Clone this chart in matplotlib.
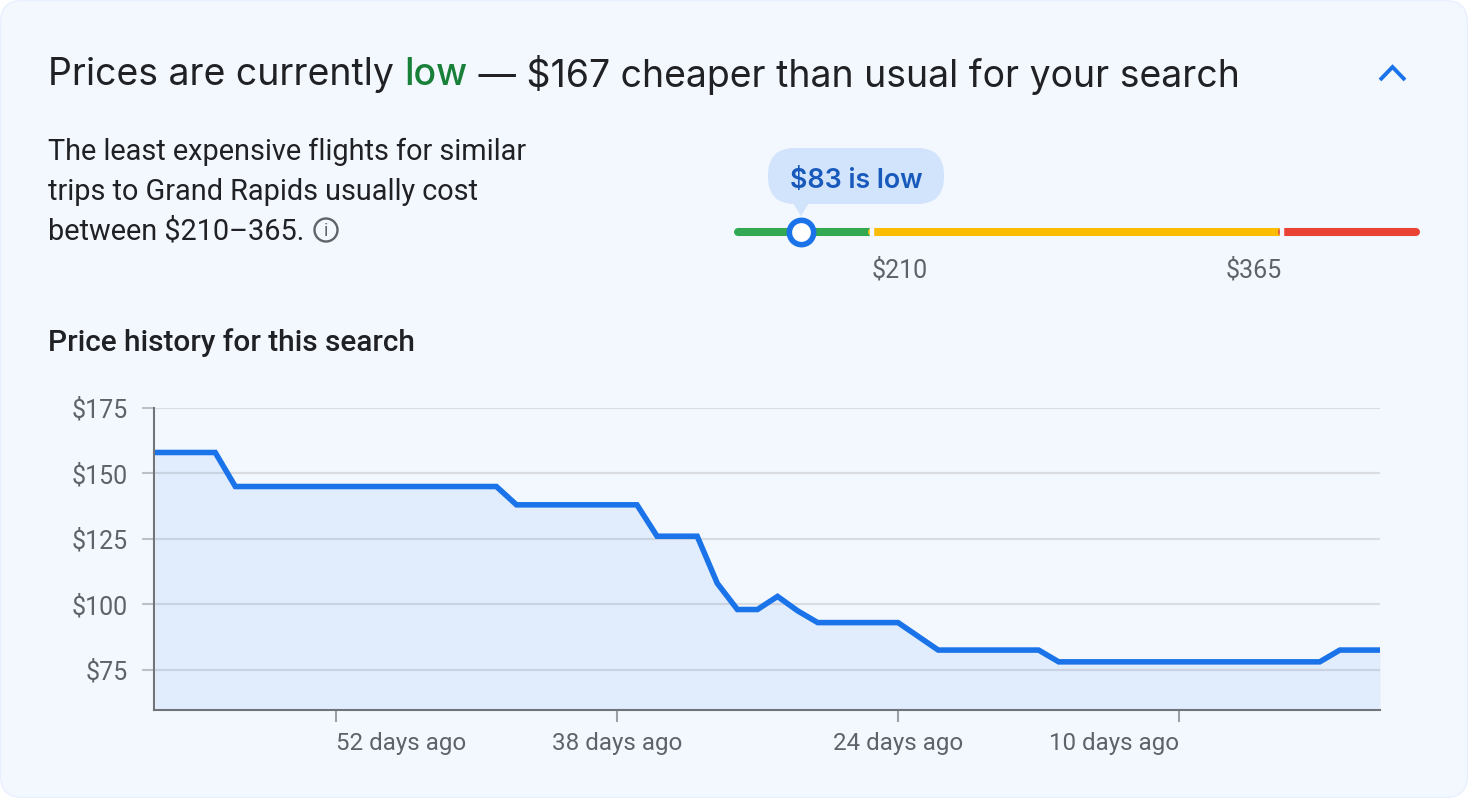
import matplotlib
matplotlib.use("Agg")
import matplotlib.pyplot as plt
import numpy as np
from matplotlib.patches import FancyBboxPatch, Polygon, Circle

W, H = 1468, 798

days_ago = list(range(61, -1, -1))
prices = [158, 158, 158, 158, 145, 145, 145, 145, 145, 145, 145, 145, 145, 145, 145, 145, 145, 145,
          138, 138, 138, 138, 138, 138, 138, 126, 126, 126, 108, 98, 98, 103, 97.5, 93, 93, 93, 93, 93,
          87.75, 82.5, 82.5, 82.5, 82.5, 82.5, 82.5, 78, 78, 78, 78, 78, 78, 78, 78, 78, 78, 78, 78, 78, 78,
          82.5, 82.5, 82.5]
y_ticks = [75, 100, 125, 150, 175]
x_ticks = [52, 38, 24, 10]
x_aligns = ["left", "center", "center", "right"]

current_price = 83
range_low = 210
range_high = 365
range_end = 500

BLUE = "#1a73e8"
TEXT = "#202124"
GREY = "#5f6368"
PANEL = "#f3f8ff"
BODY_FONT = ["Roboto", "DejaVu Sans"]
HEAD_FONT = ["Inter", "Roboto", "DejaVu Sans"]


def box(left, top, right, bottom):
    return [left / W, 1 - bottom / H, (right - left) / W, (bottom - top) / H]


fig = plt.figure(figsize=(W / 100, H / 100), dpi=100, facecolor="white")

# pixel overlay for the card and the text
bg = fig.add_axes([0, 0, 1, 1], zorder=0)
bg.set_xlim(0, W)
bg.set_ylim(H, 0)
bg.axis("off")
bg.add_patch(FancyBboxPatch((0.5, 0.5), W - 1, H - 1, boxstyle="round,pad=0,rounding_size=22",
                            fc=PANEL, ec="#e8f0fe", lw=1))

# headline in three colours
renderer = fig.canvas.get_renderer()
x = 48
for part, col, weight in [("Prices are currently ", TEXT, "normal"), ("low", "#188038", "medium"),
                          (" \u2014 $167 cheaper than usual for your search", TEXT, "normal")]:
    t = bg.text(x, 71, part, fontsize=26.95, color=col, family=HEAD_FONT, fontweight=weight,
                va="center_baseline", ha="left")
    x = t.get_window_extent(renderer).x1

for y, line in zip([149, 189, 229], ["The least expensive flights for similar",
                                     "trips to Grand Rapids usually cost",
                                     "between $210\u2013365."]):
    bg.text(48, y, line, fontsize=20.8, color=TEXT, family=BODY_FONT, va="center_baseline", ha="left")

# info icon
bg.add_patch(Circle((326, 230), 11.5, fc="none", ec=GREY, lw=1.7))
bg.text(326, 230.5, "i", fontsize=13, color=GREY, family=BODY_FONT, ha="center", va="center")

# chevron
bg.plot([1380, 1392.5, 1405], [80, 67, 80], color=BLUE, lw=2.8, solid_joinstyle="miter", solid_capstyle="butt")

bg.text(48, 340, "Price history for this search", fontsize=21.4, color=TEXT, family=BODY_FONT,
        fontweight="medium", va="center_baseline", ha="left")

# price bubble
bg.add_patch(FancyBboxPatch((768, 148), 176, 56, boxstyle="round,pad=0,rounding_size=27", fc="#d2e3fc", ec="none"))
bg.add_patch(Polygon([(793, 203), (809, 203), (801, 216)], fc="#d2e3fc", ec="none"))
bg.text(856, 178, f"${current_price} is low", fontsize=19.3, color="#185abc", family=HEAD_FONT,
        fontweight="semibold", ha="center", va="center_baseline")

# range bar, piecewise scale so the three bands get the widths of the card
rng = fig.add_axes(box(738, 222, 1416, 242), zorder=2)
rng.patch.set_alpha(0)
anchors = [0, current_price, range_low, range_high, range_end]
where = [738, 801, 872, 1282, 1416]
rng.set_xscale("function", functions=(lambda v: np.interp(v, anchors, where),
                                      lambda p: np.interp(p, where, anchors)))
rng.set_xlim(0, range_end)
rng.set_ylim(-1, 1)
for a, b, col in [(0, range_low, "#34a853"), (range_low, range_high, "#fbbc04"), (range_high, range_end, "#ea4335")]:
    rng.plot([a, b], [0, 0], color=col, lw=5.8, solid_capstyle="round", clip_on=False)
for v in [range_low, range_high]:
    rng.axvline(v, ymin=0.2, ymax=0.8, color=PANEL, lw=3.2, zorder=3)
rng.plot([current_price], [0], "o", ms=17.5, mfc="white", mec=BLUE, mew=4, clip_on=False, zorder=4)
for s in rng.spines.values():
    s.set_visible(False)
rng.set_yticks([])
rng.set_xticks([range_low, range_high])
rng.set_xticklabels([f"${range_low}", f"${range_high}"], family=BODY_FONT, fontsize=18, color=GREY)
rng.set_xticks([], minor=True)
rng.tick_params(axis="x", length=0, pad=11.5)
rng.get_xticklabels()[0].set_ha("left")
rng.get_xticklabels()[1].set_ha("right")

# price history
ax = fig.add_axes(box(154, 408, 1380, 710), zorder=1)
ax.patch.set_alpha(0)
ax.set_xlim(61.05, 0)
ax.set_ylim(59.6, 175)
ax.set_axisbelow(True)
ax.grid(axis="y", color="#dadce0", lw=1.6)
ax.fill_between(days_ago, prices, 40, color=BLUE, alpha=0.08, lw=0, zorder=2)
ax.plot(days_ago, prices, color=BLUE, lw=4, solid_joinstyle="miter", solid_capstyle="butt", zorder=3)
for name in ["top", "right"]:
    ax.spines[name].set_visible(False)
for name in ["left", "bottom"]:
    ax.spines[name].set_color("#70757a")
    ax.spines[name].set_linewidth(1.5)
ax.set_yticks(y_ticks)
ax.set_yticklabels([f"${v}" for v in y_ticks], family=BODY_FONT, fontsize=18, color=GREY)
ax.tick_params(axis="y", length=8.6, width=1.5, color="#bdc1c6", pad=10)
ax.set_xticks(x_ticks)
ax.set_xticklabels([f"{v} days ago" for v in x_ticks], family=BODY_FONT, fontsize=17.4, color=GREY)
ax.tick_params(axis="x", length=8.6, width=1.5, color="#9aa0a6", pad=7.5)
for label, align in zip(ax.get_xticklabels(), x_aligns):
    label.set_ha(align)

fig.savefig("out.png", dpi=100, facecolor=fig.get_facecolor())
